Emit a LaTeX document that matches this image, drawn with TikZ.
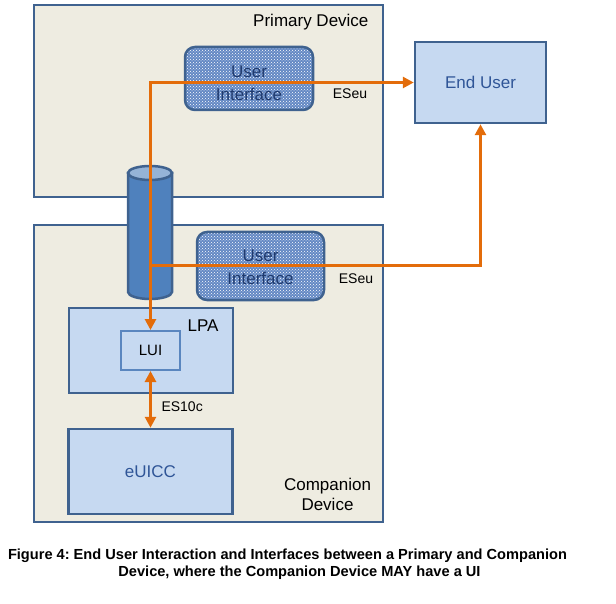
\documentclass[tikz,border=0pt]{standalone}
\usepackage{fontspec}
\setmainfont{Liberation Sans}
\frenchspacing
\usetikzlibrary{arrows.meta,patterns}
\definecolor{edge}{HTML}{3F628F}
\definecolor{beige}{HTML}{EEECE1}
\definecolor{paleblue}{HTML}{C6D9F1}
\definecolor{lightedge}{HTML}{5A86BF}
\definecolor{cylblue}{HTML}{4F81BD}
\definecolor{cyltop}{HTML}{95B3D7}
\definecolor{uiblue}{HTML}{6388C4}
\definecolor{navy}{HTML}{1F3A6E}
\definecolor{userblue}{HTML}{2F5597}
\definecolor{linkorange}{HTML}{E36C0A}
\tikzset{
  devbox/.style={draw=edge, line width=2.5pt, fill=beige, inner sep=0pt},
  partbox/.style={draw=edge, line width=2.5pt, fill=paleblue, inner sep=0pt},
  uibox/.style={draw=edge, line width=2.5pt, rounded corners=10pt,
    preaction={fill=uiblue}, pattern=crosshatch dots, pattern color=white,
    inner sep=0pt},
  uitext/.style={bigtext, text=navy, align=center},
  bigtext/.style={font=\fontsize{17}{23}\selectfont},
  smalltext/.style={font=\fontsize{14}{16}\selectfont},
  link/.style={draw=linkorange, line width=3pt},
  orangetip/.tip={Triangle[length=11pt,width=11pt]}
}
\begin{document}
\begin{tikzpicture}[x=1pt,y=-1pt]
\useasboundingbox (0,0) rectangle (616,604);
%\draw[help lines] (0,0) grid (616,604);
\node (primary) [devbox, minimum width=349pt, minimum height=192pt] at (208.5,101) {};
\node (companion) [devbox, minimum width=349pt, minimum height=297pt] at (208.5,373.5) {};
\node (enduser) [partbox, bigtext, text=userblue, minimum width=131pt, minimum height=81pt] at (480.5,82.5) {End User};
\node [bigtext, anchor=east] at (372,22) {Primary Device};
\node [align=center, font=\fontsize{17}{20}\selectfont] at (327.5,494.5) {Companion\\Device};
% link between the two devices
\draw[edge, line width=2.5pt, fill=cylblue] (128,173) -- (128,292) arc[start angle=180, end angle=0, x radius=22, y radius=7] -- (172,173) -- cycle;
\draw[edge, line width=2.5pt, fill=cyltop] (150,173) ellipse [x radius=22, y radius=7];
\node (uiA) [uibox, minimum width=128pt, minimum height=63pt] at (249,78.5) {};
\node [uitext] at ([yshift=-5pt]uiA) {User\\Interface};
\node (uiB) [uibox, minimum width=127pt, minimum height=68pt] at (260.5,266) {};
\node [uitext] at ([yshift=-1.5pt]uiB) {User\\Interface};
\node (lpa) [partbox, minimum width=164pt, minimum height=85pt] at (151,350.5) {};
\node [bigtext, anchor=east] at (222,325.5) {LPA};
\node (lui) [partbox, draw=lightedge, line width=2pt, font=\fontsize{15}{18}\selectfont, minimum width=59pt, minimum height=39pt] at (150.5,350.5) {LUI};
\node (euicc) [partbox, bigtext, text=userblue, minimum width=164pt, minimum height=85pt] at (150.5,471.5) {eUICC};
% interfaces
\coordinate (split) at (lui.north |- uiB);
\draw[link, orangetip-orangetip] (lui.north) |- (enduser.west);
\draw[link, -orangetip] (split) -| (enduser.south);
\draw[link, orangetip-orangetip] (lui.south) -- (euicc.north);
\node [smalltext] at (350,94) {ESeu};
\node [smalltext] at (356,279) {ESeu};
\node [smalltext, anchor=west] at (158,407) {ES10c};
\node (caption) [align=center, font=\bfseries\fontsize{14.6}{17.5}\selectfont] at (287.5,564) {Figure 4: End User Interaction and Interfaces between a Primary and Companion\\\hspace*{24pt}Device, where the Companion Device MAY have a UI};
\end{tikzpicture}
\end{document}
